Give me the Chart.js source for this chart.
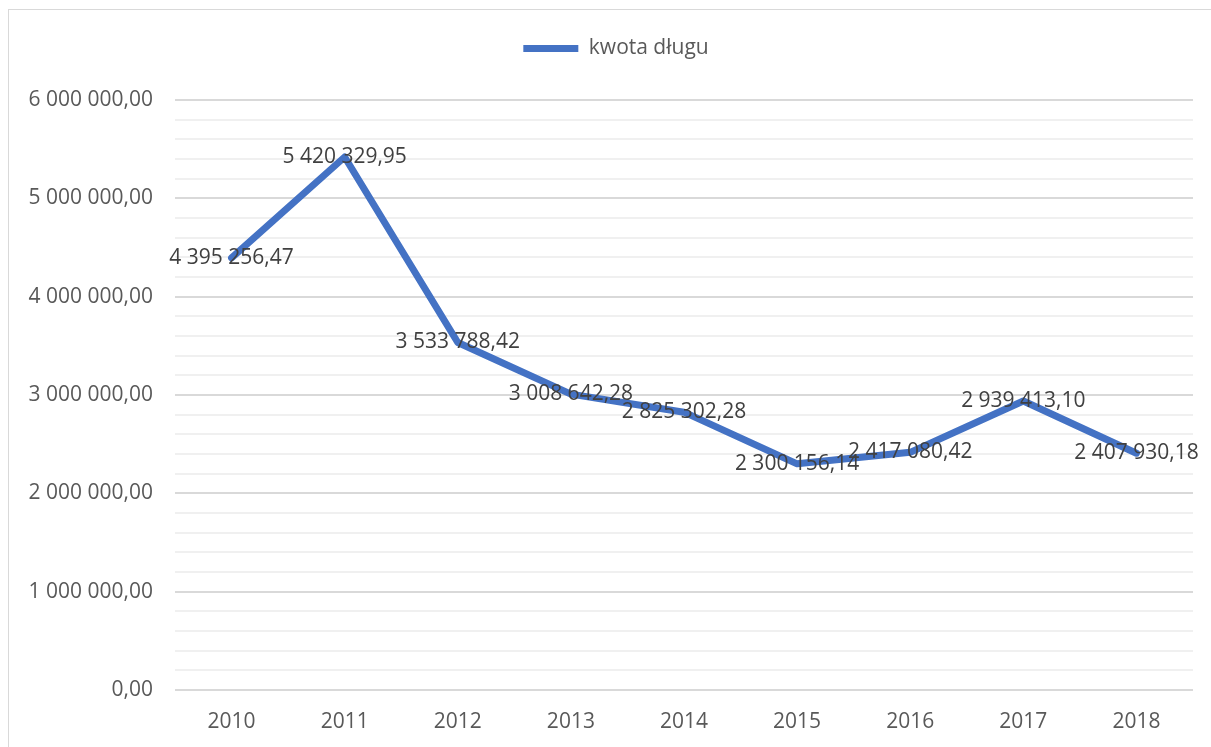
<!DOCTYPE html>
<html>
<head>
<meta charset="utf-8">
<script src="https://cdn.jsdelivr.net/npm/chart.js@4"></script>
<style>
    html, body { margin: 0; padding: 0; background: #ffffff; overflow: hidden; }
    #frame {
        position: absolute; left: 8px; top: 9px; width: 1203px; height: 738px;
        border-left: 1px solid #d9d9d9; border-top: 1px solid #d9d9d9;
        box-sizing: border-box;
    }
    #debtChart { position: absolute; left: 0; top: 0; }
</style>
</head>
<body>
<div id="frame"></div>
<canvas id="debtChart" width="1211" height="747"></canvas>
<script>
const ctx = document.getElementById('debtChart');

var years = ['2010', '2011', '2012', '2013', '2014', '2015', '2016', '2017', '2018'];
var debtAmount = [4395256.47, 5420329.95, 3533788.42, 3008642.28, 2825302.28, 2300156.14, 2417080.42, 2939413.10, 2407930.18];
var seriesName = 'kwota długu';

var yMin = 0;
var yMax = 6000000;
var yMajorStep = 1000000;
var yMinorStep = 200000;

var fontFamily = "'Open Sans', sans-serif";
var fontSize = 21;

// polish style number: "5 420 329,95"
function plNumber(v) {
    var parts = Math.abs(v).toFixed(2).split('.');
    var whole = parts[0].replace(/\B(?=(\d{3})+(?!\d))/g, ' ');
    return (v < 0 ? '-' : '') + whole + ',' + parts[1];
}

function isMajor(v) {
    return Math.abs(Math.round(v / yMajorStep) * yMajorStep - v) < 1;
}

// values written on top of every point, centred on it
const pointLabels = {
    id: 'pointLabels',
    afterDatasetsDraw(chart) {
        const c = chart.ctx;
        chart.data.datasets.forEach((ds, i) => {
            const meta = chart.getDatasetMeta(i);
            c.save();
            c.font = fontSize + 'px ' + fontFamily;
            c.fillStyle = '#404040';
            c.textAlign = 'center';
            c.textBaseline = 'middle';
            meta.data.forEach((pt, j) => {
                c.fillText(plNumber(ds.data[j]), pt.x, pt.y);
            });
            c.restore();
        });
    }
};

// more room under the legend and nudge it a bit to the right, like the original
const legendTweak = {
    id: 'legendTweak',
    afterInit(chart) {
        const lg = chart.legend;
        if (!lg) return;
        const fit = lg.fit;
        lg.fit = function () {
            fit.call(this);
            this.height += 31;
        };
    },
    afterLayout(chart) {
        const lg = chart.legend;
        if (!lg) return;
        lg.left += 7;
        lg.right += 7;
    }
};

new Chart(ctx, {
    type: 'line',
    data: {
        labels: years,
        datasets: [
            {
                label: seriesName,
                data: debtAmount,
                borderColor: '#4472c4',
                backgroundColor: '#4472c4',
                borderWidth: 7,
                borderCapStyle: 'round',
                borderJoinStyle: 'round',
                pointRadius: 0,
                pointHoverRadius: 0,
                tension: 0
            }
        ]
    },
    options: {
        responsive: false,
        animation: false,
        layout: {
            padding: { left: 25, right: 18, top: 28, bottom: 0 }
        },
        plugins: {
            tooltip: { enabled: false },
            legend: {
                position: 'top',
                labels: {
                    usePointStyle: true,
                    pointStyle: 'line',
                    pointStyleWidth: 55,
                    padding: 10,
                    color: '#595959',
                    font: { family: fontFamily, size: fontSize }
                }
            }
        },
        scales: {
            x: {
                offset: true,
                afterFit(axis) {
                    axis.height = 57;
                },
                grid: { display: false, drawTicks: false },
                border: { display: false },
                ticks: {
                    color: '#595959',
                    padding: 19,
                    font: { family: fontFamily, size: fontSize }
                }
            },
            y: {
                min: yMin,
                max: yMax,
                afterFit(axis) {
                    axis.width = 150;
                },
                border: { display: false },
                grid: {
                    drawTicks: false,
                    lineWidth: 2,
                    color: (c) => isMajor(c.tick.value) ? '#d9d9d9' : '#f0f0f0'
                },
                ticks: {
                    stepSize: yMinorStep,
                    autoSkip: false,
                    padding: 22,
                    color: '#595959',
                    font: { family: fontFamily, size: fontSize },
                    callback: (v) => isMajor(v) ? plNumber(v) : ''
                }
            }
        }
    },
    plugins: [pointLabels, legendTweak]
});
</script>
</body>
</html>
